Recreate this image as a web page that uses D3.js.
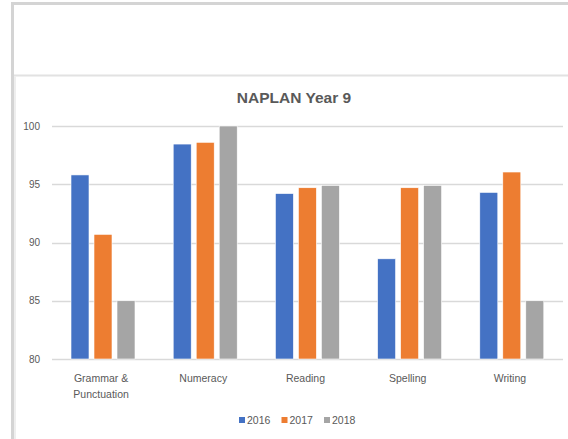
<!DOCTYPE html>
<html>
<head>
<meta charset="utf-8">
<script src="https://cdn.jsdelivr.net/npm/d3@7"></script>
<style>
  body { margin: 0; background: #fff; }
  svg { display: block; }
</style>
</head>
<body>
<div id="vis_container"></div>
<script>
// data
var categories = ["Grammar & Punctuation", "Numeracy", "Reading", "Spelling", "Writing"];
var years = ["2016", "2017", "2018"];
var values2016 = [95.8, 98.45, 94.2, 88.6, 94.3];
var values2017 = [90.7, 98.6, 94.7, 94.7, 96.05];
var values2018 = [85, 100, 94.9, 94.9, 85];
var yTicks = [80, 85, 90, 95, 100];
var colors = ["#4472C4", "#ED7D31", "#A5A5A5"];

var series = [values2016, values2017, values2018];

var chart = {};
chart.width = 568;
chart.height = 439;
chart.margin = {top: 126, left: 52, right: 5, bottom: 80};

chart.svg = d3.select("#vis_container").append("svg")
	.attr("width", chart.width)
	.attr("height", chart.height);

// outer frame
chart.svg.append("rect").attr("x", 11).attr("y", 2).attr("width", 560).attr("height", 3).attr("fill", "#d4d4d4");
chart.svg.append("rect").attr("x", 11).attr("y", 2).attr("width", 3).attr("height", 440).attr("fill", "#d4d4d4");
chart.svg.append("rect").attr("x", 14).attr("y", 74.5).attr("width", 560).attr("height", 2).attr("fill", "#e2e2e2");
chart.svg.append("rect").attr("x", 14).attr("y", 76).attr("width", 2).attr("height", 370).attr("fill", "#eeeeee");

chart.y = d3.scaleLinear()
	.domain([80, 100])
	.range([359, 126]);

chart.x0 = d3.scaleBand()
	.domain(categories)
	.range([52, 563]);

chart.x1 = d3.scaleBand()
	.domain(years)
	.range([19, 83])
	.paddingInner(5 / 23);

// title
chart.svg.append("text")
	.attr("x", 294)
	.attr("y", 103)
	.attr("text-anchor", "middle")
	.attr("font-family", "Liberation Sans, Arial, sans-serif")
	.attr("font-weight", "bold")
	.attr("font-size", "15.5px")
	.attr("fill", "#595959")
	.text("NAPLAN Year 9");

// gridlines
chart.svg.append("g")
	.selectAll("line")
	.data(yTicks)
	.enter().append("line")
	.attr("x1", 52)
	.attr("x2", 563)
	.attr("y1", function(d) { return Math.round(chart.y(d)) + 0.5; })
	.attr("y2", function(d) { return Math.round(chart.y(d)) + 0.5; })
	.attr("stroke", "#d9d9d9")
	.attr("stroke-width", 1.3);

// y axis labels
var yAxis = chart.svg.append("g")
	.attr("transform", "translate(40,0)")
	.call(d3.axisLeft(chart.y).tickValues(yTicks).tickSize(0).tickPadding(0));
yAxis.select(".domain").remove();
yAxis.selectAll("text")
	.attr("font-family", "Liberation Sans, Arial, sans-serif")
	.attr("font-size", "10px")
	.attr("fill", "#595959");

// bars
var groups = chart.svg.append("g")
	.selectAll("g")
	.data(categories)
	.enter().append("g")
	.attr("transform", function(d) { return "translate(" + chart.x0(d) + ",0)"; });

groups.selectAll("rect")
	.data(function(d, i) {
		return years.map(function(yr, j) { return {year: yr, value: series[j][i], j: j}; });
	})
	.enter().append("rect")
	.attr("x", function(d) { return chart.x1(d.year); })
	.attr("y", function(d) { return chart.y(d.value); })
	.attr("width", chart.x1.bandwidth())
	.attr("height", function(d) { return chart.y(80) - chart.y(d.value); })
	.attr("fill", function(d) { return colors[d.j]; })
	.attr("stroke", "#ffffff")
	.attr("stroke-width", 0.6);

// category labels
var xLabels = chart.svg.append("g")
	.selectAll("text")
	.data(categories)
	.enter().append("text")
	.attr("x", function(d) { return chart.x0(d) + chart.x0.bandwidth() / 2 - 2; })
	.attr("y", 382)
	.attr("text-anchor", "middle")
	.attr("font-family", "Liberation Sans, Arial, sans-serif")
	.attr("font-size", "10.5px")
	.attr("fill", "#595959");

xLabels.each(function(d) {
	var parts = d === "Grammar & Punctuation" ? ["Grammar &", "Punctuation"] : [d];
	var t = d3.select(this);
	parts.forEach(function(p, k) {
		t.append("tspan")
			.attr("x", t.attr("x"))
			.attr("dy", k === 0 ? 0 : 16)
			.text(p);
	});
});

// legend
var legendX = [239, 281.5, 324];
var legend = chart.svg.append("g")
	.selectAll("g")
	.data(years)
	.enter().append("g")
	.attr("transform", function(d, i) { return "translate(" + legendX[i] + ",417)"; });

legend.append("rect")
	.attr("width", 6)
	.attr("height", 6)
	.attr("fill", function(d, i) { return colors[i]; });

legend.append("text")
	.attr("x", 8)
	.attr("y", 7)
	.attr("font-family", "Liberation Sans, Arial, sans-serif")
	.attr("font-size", "10.5px")
	.attr("fill", "#595959")
	.text(function(d) { return d; });
</script>
</body>
</html>
